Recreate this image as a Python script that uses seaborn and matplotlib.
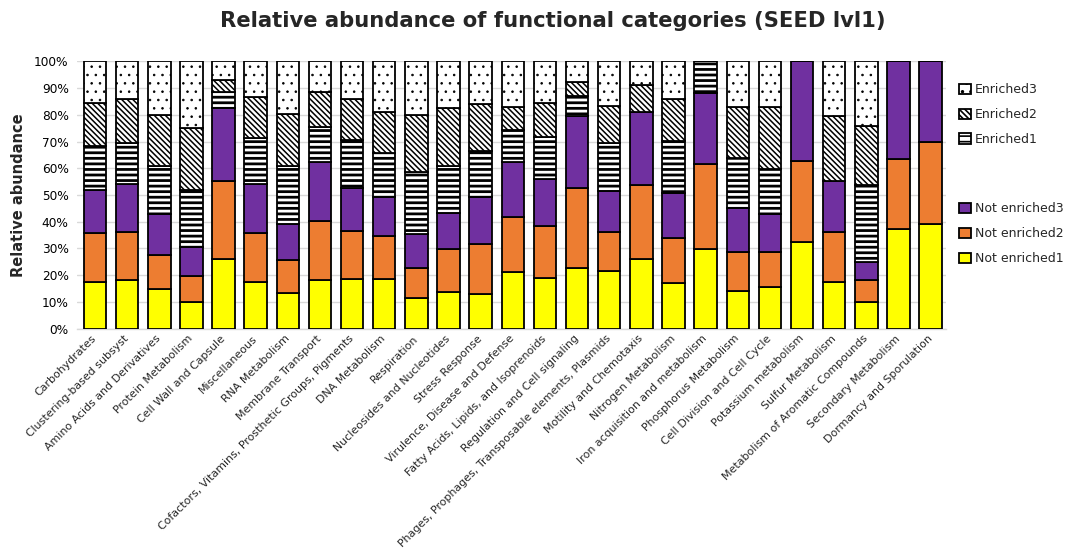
import matplotlib
matplotlib.use("Agg")
import matplotlib.pyplot as plt
import matplotlib.patches as mpatches
from matplotlib.ticker import FuncFormatter, MultipleLocator
import numpy as np
import pandas as pd
import seaborn as sns

categories = [
    "Carbohydrates",
    "Clustering-based subsyst",
    "Amino Acids and Derivatives",
    "Protein Metabolism",
    "Cell Wall and Capsule",
    "Miscellaneous",
    "RNA Metabolism",
    "Membrane Transport",
    "Cofactors, Vitamins, Prosthetic Groups, Pigments",
    "DNA Metabolism",
    "Respiration",
    "Nucleosides and Nucleotides",
    "Stress Response",
    "Virulence, Disease and Defense",
    "Fatty Acids, Lipids, and Isoprenoids",
    "Regulation and Cell signaling",
    "Phages, Prophages, Transposable elements, Plasmids",
    "Motility and Chemotaxis",
    "Nitrogen Metabolism",
    "Iron acquisition and metabolism",
    "Phosphorus Metabolism",
    "Cell Division and Cell Cycle",
    "Potassium metabolism",
    "Sulfur Metabolism",
    "Metabolism of Aromatic Compounds",
    "Secondary Metabolism",
    "Dormancy and Sporulation",
]

# Relative abundance (%) per category, stacked bottom to top
not_enriched1 = [17.6, 18.1, 14.9, 10.1, 26.0, 17.6, 13.4, 18.1, 18.6, 18.6, 11.4, 13.5, 13.0, 21.0,
                 19.1, 22.6, 21.6, 26.0, 17.0, 29.8, 14.2, 15.4, 32.3, 17.6, 10.1, 37.3, 39.1]
not_enriched2 = [18.0, 18.1, 12.7, 9.6, 29.3, 18.0, 12.1, 22.0, 18.1, 15.9, 11.2, 16.3, 18.6, 20.9,
                 19.4, 30.2, 14.7, 27.8, 16.8, 31.9, 14.3, 13.4, 30.5, 18.6, 7.9, 26.1, 30.9]
not_enriched3 = [16.3, 17.9, 15.3, 10.8, 27.3, 18.5, 13.6, 22.1, 16.1, 14.7, 12.9, 13.6, 17.6, 20.3,
                 17.6, 26.9, 15.3, 27.4, 16.9, 26.4, 16.8, 14.1, 37.2, 19.0, 6.8, 36.6, 30.0]
enriched1 = [16.5, 15.4, 18.0, 21.4, 5.8, 17.2, 21.6, 13.1, 17.9, 16.5, 23.3, 17.5, 17.1, 12.0,
             15.8, 7.3, 17.8, 0.0, 19.6, 11.9, 18.7, 16.8, 0.0, 0.0, 28.8, 0.0, 0.0]
enriched2 = [16.0, 16.5, 18.9, 23.3, 4.7, 15.3, 19.8, 13.1, 15.3, 15.2, 21.0, 21.6, 17.8, 8.9,
             12.5, 5.3, 13.8, 10.0, 15.7, 0.0, 18.8, 23.4, 0.0, 24.4, 22.1, 0.0, 0.0]
enriched3 = [15.6, 14.0, 20.2, 24.8, 6.9, 13.4, 19.5, 11.6, 14.0, 19.1, 20.2, 17.5, 15.9, 16.9,
             15.6, 7.7, 16.8, 8.8, 14.0, 0.0, 17.2, 16.9, 0.0, 20.4, 24.3, 0.0, 0.0]

series_names = ["Not enriched1", "Not enriched2", "Not enriched3",
                "Enriched1", "Enriched2", "Enriched3"]
series_values = [not_enriched1, not_enriched2, not_enriched3,
                 enriched1, enriched2, enriched3]
face_colors = ["#FFFF00", "#ED7D31", "#7030A0", "white", "white", "white"]
hatches = [None, None, None, "---", "\\\\\\\\\\\\", ".."]
hatch_colors = ["black", "black", "black", "black", "#222222", "#333333"]
hatch_widths = [1.0, 1.0, 1.0, 2.0, 1.1, 0.6]

sns.set_theme(style="white")
plt.rcParams["font.family"] = ["DejaVu Sans"]
plt.rcParams["hatch.linewidth"] = 1.2
plt.rcParams["hatch.color"] = "black"


def style_hatch(patch, lw, hc):
    if hasattr(patch, "set_hatch_linewidth"):
        patch.set_hatch_linewidth(lw)
    if hasattr(patch, "set_hatchcolor"):
        patch.set_hatchcolor(hc)


fig = plt.figure(figsize=(10.71, 5.51), dpi=100)
ax = fig.add_axes([0.0719, 0.4038, 0.8114, 0.4846])

bottom = np.zeros(len(categories))
for name, vals, fc, h, hw, hc in zip(series_names, series_values, face_colors,
                                      hatches, hatch_widths, hatch_colors):
    df = pd.DataFrame({"category": categories, "value": vals})
    n_before = len(ax.patches)
    sns.barplot(data=df, x="category", y="value", order=categories, ax=ax,
                color=fc, saturation=1, bottom=bottom.copy(), width=0.7,
                edgecolor="black", linewidth=1.3, hatch=h, errorbar=None, zorder=3)
    for p in ax.patches[n_before:]:
        style_hatch(p, hw, hc)
    bottom += np.array(vals)

ax.set_ylim(0, 100)
ax.set_xlim(-0.56, len(categories) - 0.52)
ax.yaxis.set_major_locator(MultipleLocator(10))
ax.yaxis.set_major_formatter(FuncFormatter(lambda v, p: f"{v:.0f}%"))
ax.grid(axis="y", color="#d9d9d9", linewidth=1.0, zorder=0)
ax.set_axisbelow(True)
for side in ["left", "right", "top"]:
    ax.spines[side].set_visible(False)
ax.spines["bottom"].set_color("#d9d9d9")
ax.spines["bottom"].set_linewidth(1.0)

ax.tick_params(axis="y", length=0, pad=6, labelsize=8.7, colors="black")
ax.tick_params(axis="x", length=0, pad=6)
ax.set_xticks(range(len(categories)))
ax.set_xticklabels(categories, rotation=45, ha="right", va="center",
                   rotation_mode="anchor", fontsize=7.9)
ax.set_xlabel("")
ax.set_ylabel("Relative abundance", fontsize=10.5, fontweight="bold", labelpad=6)

fig.suptitle("Relative abundance of functional categories (SEED lvl1)",
             x=0.516, y=0.962, fontsize=15.2, fontweight="bold", va="center")

# Two legend groups: enriched (hatched) and not enriched (solid)
def make_handle(i):
    p = mpatches.Patch(facecolor=face_colors[i], edgecolor="black",
                       hatch=hatches[i], linewidth=1.3)
    style_hatch(p, hatch_widths[i], hatch_colors[i])
    return p

enr_idx = [5, 4, 3]
not_idx = [2, 1, 0]
leg_kw = dict(frameon=False, fontsize=9, handlelength=0.9, handleheight=0.9,
              handletextpad=0.35, labelspacing=0.95, borderaxespad=0)
leg1 = fig.legend([make_handle(i) for i in enr_idx], [series_names[i] for i in enr_idx],
                  loc="upper left", bbox_to_anchor=(0.891, 0.858), **leg_kw)
leg2 = fig.legend([make_handle(i) for i in not_idx], [series_names[i] for i in not_idx],
                  loc="upper left", bbox_to_anchor=(0.891, 0.642), **leg_kw)

fig.savefig("out.png", dpi=100)
